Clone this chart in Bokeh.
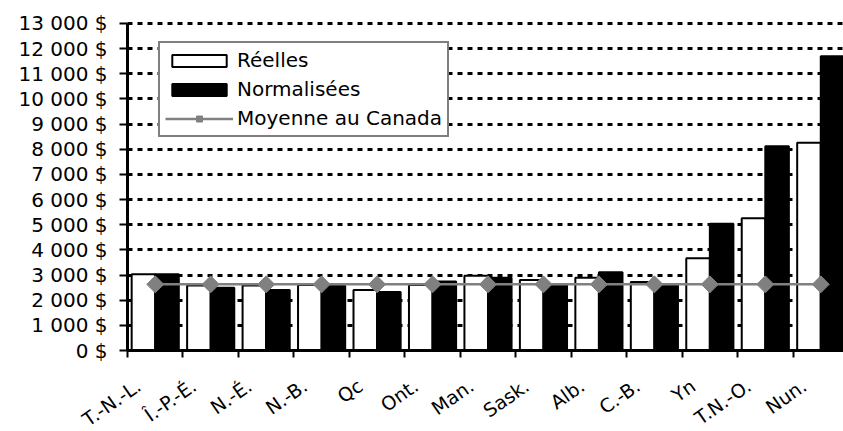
import numpy as np
from bokeh.plotting import figure
from bokeh.models import Range1d, FixedTicker, Legend, LegendItem, LinearAxis, Grid
from bokeh.embed import file_html
from bokeh.resources import INLINE

# ---- data ----
provinces = ["T.-N.-L.", "Î.-P.-É.", "N.-É.", "N.-B.", "Qc", "Ont.", "Man.",
             "Sask.", "Alb.", "C.-B.", "Yn", "T.N.-O.", "Nun."]
reelles = [3030, 2580, 2580, 2600, 2410, 2600, 2970, 2800, 2890, 2720, 3670, 5260, 8260]
normalisees = [3030, 2490, 2410, 2570, 2330, 2740, 2890, 2600, 3110, 2620, 5040, 8120, 11700]
moyenne_canada = [2630, 2630, 2630, 2630, 2630, 2630, 2630, 2630, 2630, 2630, 2630, 2630, 2630]
y_ticks = [0, 1000, 2000, 3000, 4000, 5000, 6000, 7000, 8000, 9000, 10000, 11000, 12000, 13000]
y_tick_labels = ["0 $", "1 000 $", "2 000 $", "3 000 $", "4 000 $", "5 000 $", "6 000 $",
                 "7 000 $", "8 000 $", "9 000 $", "10 000 $", "11 000 $", "12 000 $", "13 000 $"]

FONT = "DejaVu Sans"
n = len(provinces)
centers = np.arange(n) + 0.5
bounds = np.arange(n + 1).astype(float)
bw = 0.425
label_shift = 0.3   # category labels sit a little left of the category centre

# The plotting frame fills the whole canvas; both axes are pinned at 0 so that
# their tick labels can spill into the margins without being clipped.
p = figure(width=843, height=431, x_range=Range1d(-2.29, 12.91), y_range=Range1d(-3220, 13914),
           output_backend="svg", toolbar_location=None,
           x_axis_type=None, y_axis_type=None,
           min_border_left=0, min_border_top=0, min_border_right=0, min_border_bottom=0)
p.outline_line_color = None
p.background_fill_color = "white"

# grid
y_ticker = FixedTicker(ticks=y_ticks, minor_ticks=[])
grid = Grid(dimension=1, ticker=y_ticker, grid_line_color="black", grid_line_width=3,
            grid_line_dash="5 5", bounds=(0, 13000), cross_bounds=(0, n))
p.add_layout(grid)

# bars
r_white = p.vbar(x=centers - bw / 2, width=bw, top=reelles, bottom=0,
                 fill_color="white", line_color="black", line_width=2)
r_black = p.vbar(x=centers + bw / 2, width=bw, top=normalisees, bottom=0,
                 fill_color="black", line_color="black", line_width=2)

# average line
r_line = p.line(centers, moyenne_canada, line_color="#808080", line_width=2.5)
r_pts = p.scatter(centers, moyenne_canada, marker="square", angle=np.pi / 4, size=12,
                  fill_color="#808080", line_color="#808080")

# axes
yaxis = LinearAxis(ticker=y_ticker, bounds=(0, 13000), fixed_location=0,
                   major_label_overrides={t: l for t, l in zip(y_ticks, y_tick_labels)},
                   axis_line_width=3, axis_line_color="black",
                   major_tick_out=8, major_tick_in=0, major_tick_line_width=2,
                   minor_tick_out=0, minor_tick_in=0,
                   major_label_standoff=12,
                   major_label_text_font=FONT, major_label_text_font_size="20px",
                   major_label_text_color="black")
p.add_layout(yaxis, "left")

label_pos = centers - label_shift
x_ticker = FixedTicker(ticks=list(label_pos), minor_ticks=list(bounds))
xaxis = LinearAxis(ticker=x_ticker, fixed_location=0, bounds=(0, n),
                   major_label_overrides={float(c): name for c, name in zip(label_pos, provinces)},
                   axis_line_width=3, axis_line_color="black",
                   major_tick_out=0, major_tick_in=0,
                   minor_tick_out=7, minor_tick_in=0, minor_tick_line_width=2,
                   minor_tick_line_color="black",
                   major_label_orientation=0.61, major_label_standoff=26,
                   major_label_text_font=FONT, major_label_text_font_size="19px",
                   major_label_text_color="black")
p.add_layout(xaxis, "below")

legend = Legend(items=[LegendItem(label="Réelles", renderers=[r_white]),
                       LegendItem(label="Normalisées", renderers=[r_black]),
                       LegendItem(label="Moyenne au Canada", renderers=[r_line, r_pts])],
                location=(158, 294), border_line_color="black", border_line_width=2,
                background_fill_color="white", background_fill_alpha=1,
                label_text_font=FONT, label_text_font_size="20px", label_text_color="black",
                glyph_width=68, glyph_height=15, label_standoff=4, spacing=5,
                padding=5, margin=0)
p.add_layout(legend, "center")

open("out.html", "w").write(file_html(p, INLINE))
